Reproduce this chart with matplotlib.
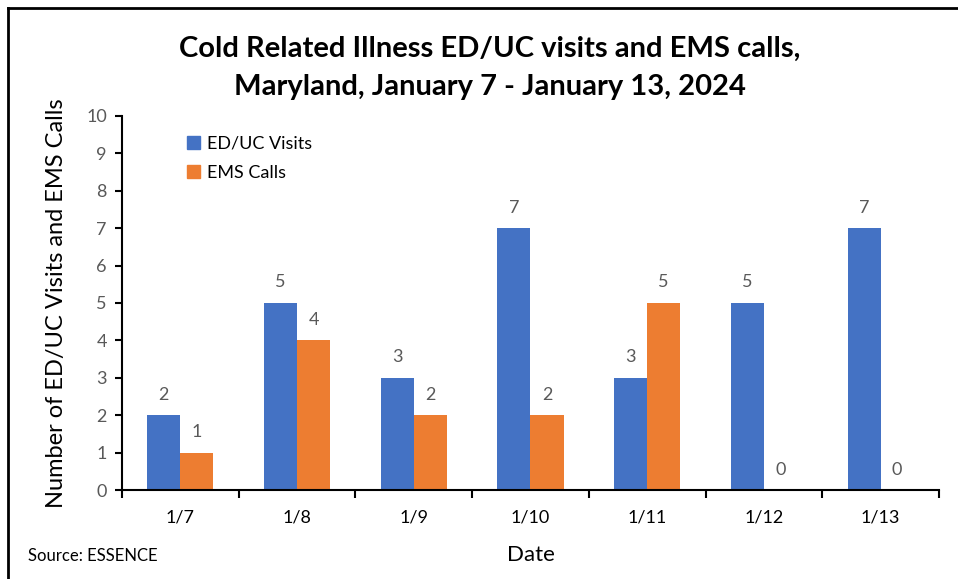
import numpy as np
import matplotlib
matplotlib.use('Agg')
import matplotlib.pyplot as plt
from matplotlib.lines import Line2D

plt.rcParams['font.family'] = ['Lato', 'DejaVu Sans']

# data
dates = ['1/7', '1/8', '1/9', '1/10', '1/11', '1/12', '1/13']
ed_uc_visits = [2, 5, 3, 7, 3, 5, 7]
ems_calls = [1, 4, 2, 2, 5, 0, 0]

blue = '#4472C4'
orange = '#ED7D31'
grey = '#595959'

fig = plt.figure(figsize=(9.58, 5.79), dpi=100)
ax = fig.add_axes([0.1274, 0.1537, 0.8527, 0.646])

x = np.arange(len(dates))
w = 0.283
b1 = ax.bar(x - w / 2, ed_uc_visits, w, color=blue, label='ED/UC Visits')
b2 = ax.bar(x + w / 2, ems_calls, w, color=orange, label='EMS Calls')

for bars in (b1, b2):
	for rect in bars:
		h = rect.get_height()
		ax.annotate('{:d}'.format(int(h)), (rect.get_x() + rect.get_width() / 2, h),
			xytext=(0, 9), textcoords='offset points', ha='center', va='bottom',
			fontsize=13, color=grey)

ax.set_xlim(-0.5, len(dates) - 0.5)
ax.set_ylim(0, 10)
ax.set_yticks(range(0, 11))
ax.set_xticks(x)
ax.set_xticklabels(dates)
ax.set_xticks(np.arange(-0.5, len(dates)), minor=True)

for s in ['top', 'right']:
	ax.spines[s].set_visible(False)
for s in ['left', 'bottom']:
	ax.spines[s].set_linewidth(1.5)
	ax.spines[s].set_color('black')

ax.tick_params(axis='y', length=5, width=1.5, labelsize=13, labelcolor=grey, pad=6)
ax.tick_params(axis='x', which='major', length=0, labelsize=13, labelcolor='black', pad=14)
ax.tick_params(axis='x', which='minor', length=6, width=1.5, direction='out')

ax.set_ylabel('Number of ED/UC Visits and EMS Calls', fontsize=17, labelpad=14)
ax.set_xlabel('Date', fontsize=16, labelpad=14)

handles = [plt.Rectangle((0, 0), 1, 1, color=blue), plt.Rectangle((0, 0), 1, 1, color=orange)]
ax.legend(handles, ['ED/UC Visits', 'EMS Calls'], loc='upper left', bbox_to_anchor=(0.06, 0.99),
	frameon=False, fontsize=13, handlelength=0.7, handleheight=0.7, handletextpad=0.4, labelspacing=0.7)

fig.text(0.511, 0.883, 'Cold Related Illness ED/UC visits and EMS calls,\nMaryland, January 7 - January 13, 2024',
	ha='center', va='center', fontsize=21, fontweight='bold', linespacing=1.6)

fig.text(0.029, 0.04, 'Source: ESSENCE', fontsize=12, ha='left', va='center')

# frame border (top and left edges visible)
fig.add_artist(Line2D([0.008, 1.0], [0.986, 0.986], color='black', lw=2, transform=fig.transFigure))
fig.add_artist(Line2D([0.008, 0.008], [0.0, 0.986], color='black', lw=2, transform=fig.transFigure))

plt.savefig('out.png', dpi=100)
plt.close()
